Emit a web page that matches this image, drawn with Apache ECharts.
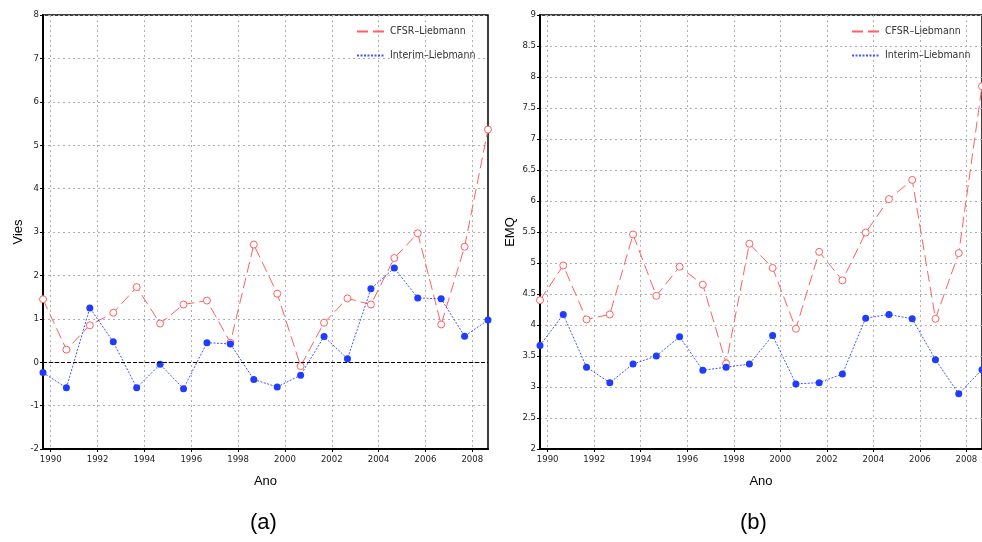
<!DOCTYPE html>
<html>
<head>
<meta charset="utf-8">
<script src="https://cdn.jsdelivr.net/npm/echarts@6/dist/echarts.min.js"></script>
<style>html,body{margin:0;padding:0;background:#fff;}#c{width:982px;height:542px;}</style>
</head>
<body>
<div id="c"></div>
<script>
// Data
const anos = [1989.67, 1990.67, 1991.67, 1992.67, 1993.67, 1994.67, 1995.67, 1996.67, 1997.67, 1998.67,
              1999.67, 2000.67, 2001.67, 2002.67, 2003.67, 2004.67, 2005.67, 2006.67, 2007.67, 2008.67];
const viesCFSR = [1.45, 0.29, 0.85, 1.14, 1.73, 0.89, 1.33, 1.42, 0.45, 2.71,
                  1.58, -0.09, 0.91, 1.47, 1.33, 2.40, 2.97, 0.87, 2.66, 5.36];
const viesInterim = [-0.24, -0.59, 1.25, 0.47, -0.59, -0.05, -0.61, 0.45, 0.42, -0.40,
                     -0.57, -0.30, 0.59, 0.08, 1.69, 2.17, 1.48, 1.46, 0.60, 0.97];
const emqCFSR = [4.40, 4.96, 4.09, 4.17, 5.46, 4.47, 4.94, 4.65, 3.38, 5.31,
                 4.92, 3.94, 5.18, 4.72, 5.49, 6.03, 6.34, 4.10, 5.16, 7.85];
const emqInterim = [3.67, 4.17, 3.32, 3.07, 3.37, 3.50, 3.81, 3.27, 3.32, 3.37,
                    3.83, 3.05, 3.07, 3.21, 4.11, 4.17, 4.10, 3.44, 2.89, 3.28];
const xTicks = [1990, 1992, 1994, 1996, 1998, 2000, 2002, 2004, 2006, 2008];
const nomes = ['CFSR\u2013Liebmann', 'Interim\u2013Liebmann'];

const pairs = (ys) => anos.map((x, i) => [x, ys[i]]);

const RED = '#ff6060';
const BLUE = '#1f3cff';
const tickFont = 'DejaVu Sans Condensed, Liberation Sans Narrow, sans-serif';

function xAxisFor(gi) {
  return {
    gridIndex: gi, type: 'value', min: anos[0], max: anos[anos.length - 1],
    name: 'Ano', nameLocation: 'middle', nameGap: 26,
    nameTextStyle: {fontSize: 13, color: '#000', fontFamily: 'Liberation Sans, Arial, sans-serif'},
    axisLine: {show: true, onZero: false, lineStyle: {color: '#000', width: 2}},
    axisTick: {show: true, length: 3, customValues: xTicks, lineStyle: {color: '#000'}},
    axisLabel: {customValues: xTicks, fontSize: 9.5, color: '#222', margin: 6, fontFamily: tickFont,
                formatter: (v) => String(Math.round(v))},
    splitLine: {show: true, lineStyle: {color: '#b0b0b0', type: [2, 3], width: 1}}
  };
}
function yAxisFor(gi, name, min, max, interval, gap) {
  return {
    gridIndex: gi, type: 'value', min: min, max: max, interval: interval,
    name: name, nameLocation: 'middle', nameGap: gap,
    nameTextStyle: {fontSize: 13, color: '#000', fontFamily: 'Liberation Sans, Arial, sans-serif'},
    axisLine: {show: true, onZero: false, lineStyle: {color: '#000', width: 2}},
    axisTick: {show: true, length: 3, lineStyle: {color: '#000'}},
    axisLabel: {fontSize: 9.5, color: '#222', margin: 4, fontFamily: tickFont},
    splitLine: {show: true, lineStyle: {color: '#b0b0b0', type: [2, 3], width: 1}}
  };
}
function redSeries(xi, ys) {
  return {
    name: nomes[0], type: 'line', xAxisIndex: xi, yAxisIndex: xi, data: pairs(ys),
    symbol: 'circle', symbolSize: 7, showAllSymbol: true,
    itemStyle: {color: '#fff', borderColor: RED, borderWidth: 1},
    lineStyle: {color: RED, width: 1, type: [11, 5]},
    animation: false, z: 3
  };
}
function blueSeries(xi, ys, extra) {
  return Object.assign({
    name: nomes[1], type: 'line', xAxisIndex: xi, yAxisIndex: xi, data: pairs(ys),
    symbol: 'circle', symbolSize: 7, showAllSymbol: true,
    itemStyle: {color: BLUE},
    lineStyle: {color: BLUE, width: 1, type: [2, 1.5], opacity: 0.85},
    animation: false, z: 4
  }, extra || {});
}
function legendFor(left) {
  return {
    orient: 'vertical', left: left, top: 26, itemWidth: 28, itemHeight: 10, itemGap: 13,
    data: nomes, selectedMode: false,
    itemStyle: {opacity: 0},
    textStyle: {fontSize: 10.5, color: '#333', fontFamily: tickFont},
    padding: 0
  };
}

const chart = echarts.init(document.getElementById('c'), null, {renderer: 'canvas'});
chart.setOption({
  animation: false,
  backgroundColor: '#fff',
  grid: [
    {left: 43, top: 15, width: 445, height: 434, show: true, borderColor: '#000', borderWidth: 1.5, backgroundColor: 'transparent'},
    {left: 540, top: 15, width: 444, height: 434, show: true, borderColor: '#000', borderWidth: 1.5, backgroundColor: 'transparent'}
  ],
  legend: [legendFor(356), legendFor(851)],
  xAxis: [xAxisFor(0), xAxisFor(1)],
  yAxis: [yAxisFor(0, 'Vies', -2, 8, 1, 18), yAxisFor(1, 'EMQ', 2, 9, 0.5, 23)],
  series: [
    redSeries(0, viesCFSR),
    blueSeries(0, viesInterim, {
      markLine: {
        silent: true, symbol: 'none', label: {show: false},
        lineStyle: {color: '#000', type: [4, 2], width: 1, opacity: 1},
        data: [{yAxis: 0}]
      }
    }),
    redSeries(1, emqCFSR),
    blueSeries(1, emqInterim)
  ],
  graphic: [
    {type: 'text', left: 250, top: 512, style: {text: '(a)', fontSize: 22, fill: '#000', fontFamily: 'Liberation Sans, Arial, sans-serif'}},
    {type: 'text', left: 740, top: 512, style: {text: '(b)', fontSize: 22, fill: '#000', fontFamily: 'Liberation Sans, Arial, sans-serif'}}
  ]
});
</script>
</body>
</html>
